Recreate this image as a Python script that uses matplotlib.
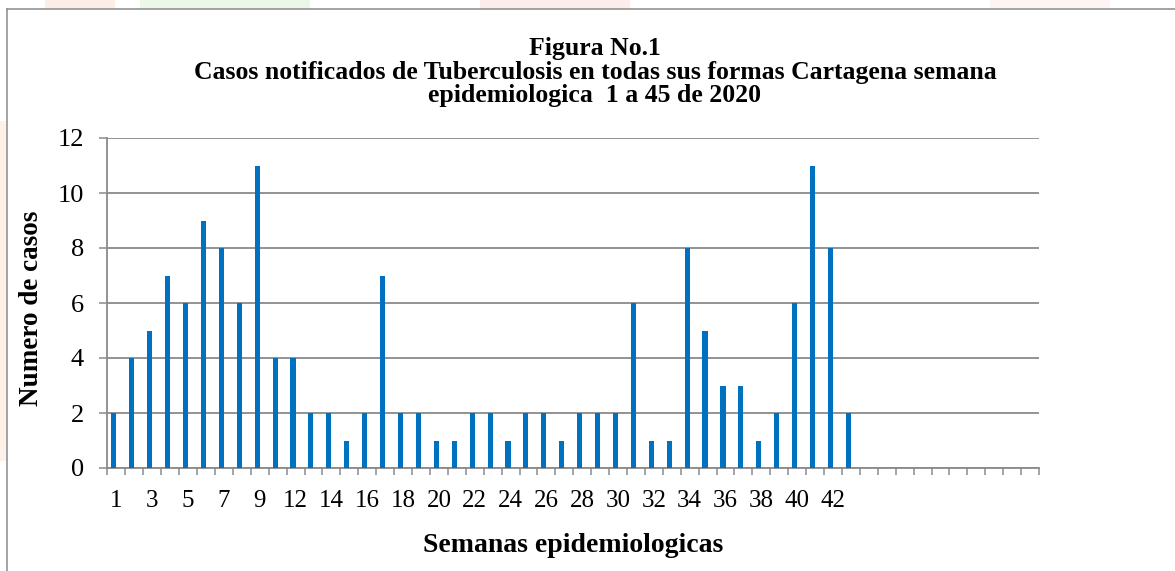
"""Casos notificados de Tuberculosis, Cartagena 2020 - bar chart by epidemiological week."""

import matplotlib
matplotlib.use("Agg")
import matplotlib.pyplot as plt
from matplotlib.patches import Rectangle
from matplotlib.lines import Line2D
import numpy as np

# category labels on the x axis (week 11 is not in the source table, blanks pad to 52 slots)
semanas = [str(s) for s in range(1, 11)] + [str(s) for s in range(12, 44)] + [""] * 10
casos = [2, 4, 5, 7, 6, 9, 8, 6, 11, 4, 4, 2, 2, 1, 2, 7, 2, 2, 1, 1, 2,
         2, 1, 2, 2, 1, 2, 2, 2, 6, 1, 1, 8, 5, 3, 3, 1, 2, 6, 11, 8, 2]
y_ticks = [0, 2, 4, 6, 8, 10, 12]

titulo = ("Figura No.1\n"
          "Casos notificados de Tuberculosis en todas sus formas Cartagena semana\n"
          "epidemiologica  1 a 45 de 2020")

W, H = 1175, 571
GRAY = "#8a8a8a"
BLUE = "#0070C0"
SERIF = ["Liberation Serif", "DejaVu Serif"]

fig = plt.figure(figsize=(W / 100, H / 100), dpi=100)
fig.patch.set_facecolor("white")

# faint watermark bits peeking around the chart frame
for x0, y0, w, h, c in [(45, 562, 70, 9, "#fbeee6"), (140, 562, 170, 9, "#ecf6e9"),
                        (480, 562, 150, 9, "#fcecec"), (990, 563, 120, 8, "#fdf4f4"),
                        (0, 110, 6, 340, "#fdf1e8")]:
    fig.add_artist(Rectangle((x0 / W, y0 / H), w / W, h / H, transform=fig.transFigure,
                             facecolor=c, edgecolor="none", zorder=0))

# chart-area frame (right and bottom edges lie outside the picture)
fig.add_artist(Line2D([7 / W, 7 / W], [0, 1 - 9 / H], transform=fig.transFigure,
                      color=GRAY, lw=1.1))
fig.add_artist(Line2D([7 / W, 1], [1 - 9 / H, 1 - 9 / H], transform=fig.transFigure,
                      color=GRAY, lw=1.1))

ax = fig.add_axes([107.5 / W, 1 - 468 / H, (1039 - 107.5) / W, (468 - 138) / H])
x = np.arange(len(casos))
ax.bar(x - 0.143, casos, width=0.285, color=BLUE, zorder=3)

ax.set_xlim(-0.5, len(semanas) - 0.5)
ax.set_ylim(0, 12)

ax.set_xticks(np.arange(0, len(semanas), 2))
ax.set_xticklabels(semanas[::2], family=SERIF, fontsize=18)
ax.set_xticks(np.arange(-0.5, len(semanas), 1), minor=True)
ax.tick_params(axis="x", which="major", length=0, pad=16)
ax.tick_params(axis="x", which="minor", length=5, width=1.1, color=GRAY)

ax.set_yticks(y_ticks)
ax.set_yticklabels([str(v) for v in y_ticks], family=SERIF, fontsize=19)
ax.tick_params(axis="y", length=6, width=1.1, color=GRAY, pad=11)

ax.grid(axis="y", color=GRAY, lw=1.3, zorder=0)
for s in ("top", "right"):
    ax.spines[s].set_visible(False)
for s in ("left", "bottom"):
    ax.spines[s].set_color(GRAY)
    ax.spines[s].set_linewidth(1.3)

fig.text(595 / W, 1 - 72 / H, titulo, ha="center", va="center", family=SERIF,
         fontweight="bold", fontsize=18.5, linespacing=1.0)
fig.text(32 / W, 1 - 308 / H, "Numero de casos", rotation=90, ha="center", va="center",
         family=SERIF, fontweight="bold", fontsize=19.5)
fig.text(573 / W, 1 - 545 / H, "Semanas epidemiologicas", ha="center", va="center",
         family=SERIF, fontweight="bold", fontsize=20)

fig.savefig("out.png", dpi=100)
